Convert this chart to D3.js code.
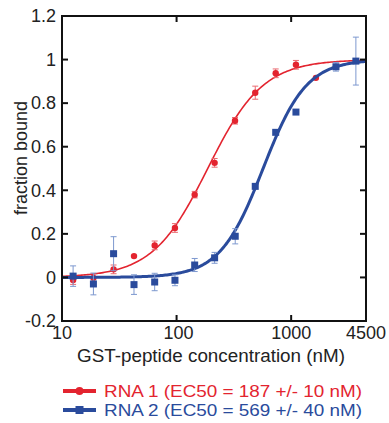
<!DOCTYPE html>
<html><head><meta charset="utf-8">
<script src="https://cdn.jsdelivr.net/npm/d3@7"></script>
<style>
html,body{margin:0;padding:0;background:#fff;}
svg{display:block;font-family:"Liberation Sans",Arial,sans-serif;}
</style></head>
<body><svg id="c" width="389" height="423"></svg>
<script>
// ---- data ----
const rna1Conc = [12.5, 18.8, 28.2, 42.5, 64.4, 96.8, 143.9, 214.8, 323.6, 486, 733, 1101, 1645];
const rna1Frac = [-0.012, -0.002, 0.037, 0.098, 0.147, 0.227, 0.380, 0.526, 0.719, 0.848, 0.937, 0.976, 0.916];
const rna1Err  = [0.02, 0.0, 0.02, 0.0, 0.02, 0.02, 0.015, 0.02, 0.015, 0.03, 0.02, 0.02, 0.0];
const rna2Conc = [12.5, 18.8, 28.2, 42.5, 64.4, 96.8, 143.9, 214.8, 325, 486, 733, 1101, 2460, 3672];
const rna2Frac = [0.006, -0.03, 0.109, -0.033, -0.021, -0.013, 0.057, 0.090, 0.189, 0.418, 0.666, 0.759, 0.967, 0.993];
const rna2Err  = [0.047, 0.05, 0.078, 0.045, 0.04, 0.025, 0.03, 0.025, 0.035, 0.0, 0.0, 0.0, 0.02, 0.11];
const ec50 = [187, 569];
const hill = [1.8, 2.3];
const seriesNames = ["RNA 1 (EC50 = 187 +/- 10 nM)", "RNA 2 (EC50 = 569 +/- 40 nM)"];
const xTickVals = [10, 100, 1000, 4500];
const xTickLabels = ["10", "100", "1000", "4500"];
const yTickVals = [-0.2, 0, 0.2, 0.4, 0.6, 0.8, 1, 1.2];
const yTickLabels = ["-0.2", "0", "0.2", "0.4", "0.6", "0.8", "1", "1.2"];

const red = "#e3242f", redErr = "#ea6a70";
const blue = "#2a4b9c", blueErr = "#7d98cf";

const svg = d3.select("#c");
const L = 62, R = 366, T = 16, B = 321;
const x = d3.scaleLog().domain([10, 4500]).range([L, R]);
const y = d3.scaleLinear().domain([-0.2, 1.2]).range([B, T]);

// fit curves
function curve(e, n) {
  const xs = d3.range(0, 201).map(i => Math.pow(10, 1 + i / 200 * Math.log10(450)));
  return xs.map(c => [c, 1 / (1 + Math.pow(e / c, n))]);
}
const line = d3.line().x(d => x(d[0])).y(d => y(d[1])).curve(d3.curveLinear);

const g = svg.append("g");
g.append("path").attr("d", line(curve(ec50[0], hill[0]))).attr("fill", "none").attr("stroke", red).attr("stroke-width", 1.6);

function errBars(conc, frac, err, col) {
  conc.forEach((c, i) => {
    if (!err[i]) return;
    const cx = x(c), y1 = y(frac[i] - err[i]), y2 = y(frac[i] + err[i]);
    g.append("line").attr("x1", cx).attr("x2", cx).attr("y1", y1).attr("y2", y2).attr("stroke", col).attr("stroke-width", 1);
    [y1, y2].forEach(yy => g.append("line").attr("x1", cx - 3).attr("x2", cx + 3).attr("y1", yy).attr("y2", yy).attr("stroke", col).attr("stroke-width", 1));
  });
}
errBars(rna1Conc, rna1Frac, rna1Err, redErr);
g.selectAll(".rp").data(rna1Conc).enter().append("circle")
  .attr("cx", d => x(d)).attr("cy", (d, i) => y(rna1Frac[i])).attr("r", 3.2).attr("fill", red);

g.append("path").attr("d", line(curve(ec50[1], hill[1]))).attr("fill", "none").attr("stroke", blue).attr("stroke-width", 3);
errBars(rna2Conc, rna2Frac, rna2Err, blueErr);
g.selectAll(".bp").data(rna2Conc).enter().append("rect")
  .attr("x", d => x(d) - 3.5).attr("y", (d, i) => y(rna2Frac[i]) - 3.5).attr("width", 7).attr("height", 7).attr("fill", blue);

// frame
svg.append("rect").attr("x", L).attr("y", T).attr("width", R - L).attr("height", B - T)
  .attr("fill", "none").attr("stroke", "#111").attr("stroke-width", 2);

const fs = 18;
yTickVals.forEach((v, i) => {
  const yy = y(v);
  svg.append("line").attr("x1", L).attr("x2", L + 6).attr("y1", yy).attr("y2", yy).attr("stroke", "#111").attr("stroke-width", 2);
  svg.append("line").attr("x1", R - 6).attr("x2", R).attr("y1", yy).attr("y2", yy).attr("stroke", "#111").attr("stroke-width", 2);
  svg.append("text").attr("x", 56).attr("y", yy + 6.3).attr("text-anchor", "end").attr("font-size", fs).attr("fill", "#222").text(yTickLabels[i]);
});
xTickVals.forEach((v, i) => {
  const xx = x(v);
  if (v > 10 && v < 4500) {
    svg.append("line").attr("x1", xx).attr("x2", xx).attr("y1", T).attr("y2", T + 6).attr("stroke", "#111").attr("stroke-width", 2);
    svg.append("line").attr("x1", xx).attr("x2", xx).attr("y1", B - 6).attr("y2", B).attr("stroke", "#111").attr("stroke-width", 2);
  }
  svg.append("text").attr("x", xx + (v === 100 ? 2 : 0)).attr("y", 339).attr("text-anchor", "middle").attr("font-size", fs).attr("fill", "#222").text(xTickLabels[i]);
});

// axis titles
svg.append("text").attr("x", 211).attr("y", 362).attr("text-anchor", "middle").attr("font-size", 17.5)
  .attr("textLength", 268).attr("lengthAdjust", "spacingAndGlyphs").attr("fill", "#222").text("GST-peptide concentration (nM)");
svg.append("text").attr("transform", "translate(27,158) rotate(-90)").attr("text-anchor", "middle").attr("font-size", 18).attr("fill", "#222").text("fraction bound");

// legend
const leg = [{c: red, y: 391, shape: "circle"}, {c: blue, y: 410, shape: "square"}];
leg.forEach((d, i) => {
  svg.append("line").attr("x1", 63).attr("x2", 96).attr("y1", d.y).attr("y2", d.y).attr("stroke", d.c).attr("stroke-width", 4);
  if (d.shape === "circle") svg.append("circle").attr("cx", 79.5).attr("cy", d.y).attr("r", 4).attr("fill", d.c);
  else svg.append("rect").attr("x", 75.5).attr("y", d.y - 4).attr("width", 8).attr("height", 8).attr("fill", d.c);
  svg.append("text").attr("x", 104).attr("y", d.y + 6).attr("font-size", 17)
    .attr("textLength", 258).attr("lengthAdjust", "spacingAndGlyphs").attr("fill", d.c).text(seriesNames[i]);
});
</script></body></html>
